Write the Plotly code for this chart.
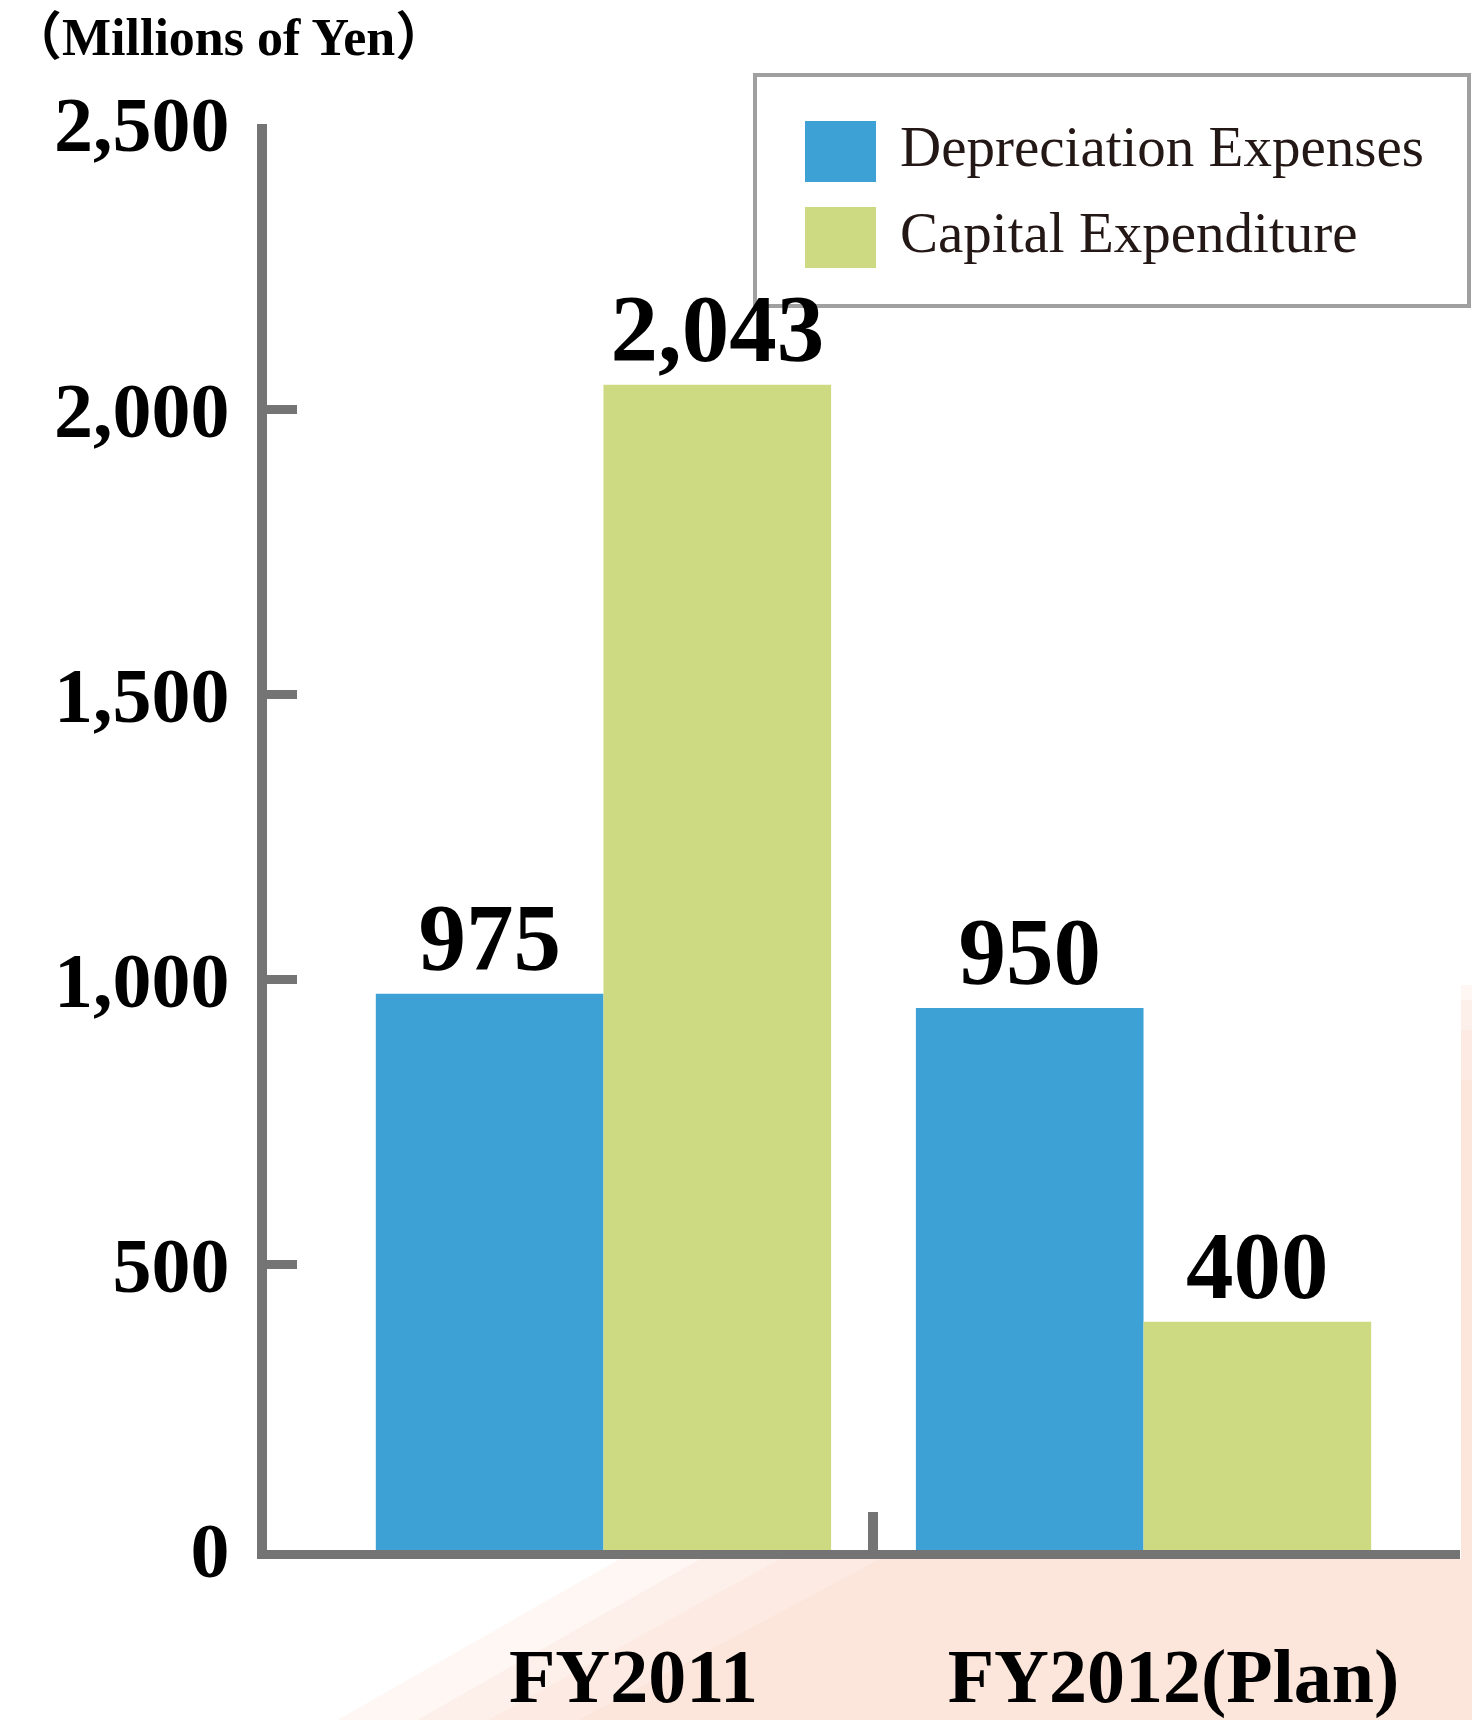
import plotly.graph_objects as go

# ---------------- data ----------------
categories = ["FY2011", "FY2012(Plan)"]
series_names = ["Depreciation Expenses", "Capital Expenditure"]
depreciation = [975, 950]
capital_expenditure = [2043, 400]
y_tick_values = [0, 500, 1000, 1500, 2000, 2500]
unit_label = "（Millions of Yen）"

# ---------------- style ----------------
W, H = 1472, 1720
ML, MR, MT, MB = 267, 12, 124, 170
PW, PH = W - ML - MR, H - MT - MB
BLUE = "#3DA1D6"
GREEN = "#CEDA82"
AXIS = "#747474"
SERIF = "Liberation Serif, Times New Roman, serif"
SERIF_CJK = "Liberation Serif, Noto Sans CJK JP, serif"
TEXT_DARK = "#231815"
PEACH = "#FBE0D3"


def px(x):
    return (x - ML) / PW


def py(y):
    return (H - MB - y) / PH


x_index = list(range(len(categories)))
series_values = [depreciation, capital_expenditure]
series_colors = [BLUE, GREEN]

fig = go.Figure()
for name, vals, col in zip(series_names, series_values, series_colors):
    fig.add_trace(go.Bar(
        name=name, x=x_index, y=vals,
        marker=dict(color=col, line=dict(width=0)),
        texttemplate="%{y:,}", textposition="outside",
        textfont=dict(family=SERIF, size=95, color="black", weight="bold"),
        constraintext="none", cliponaxis=False, showlegend=False,
    ))

shapes = []
# soft peach background at bottom right (layered for a soft edge)
for (top_y, x_top, x_bot, op) in [(985, 620, 320, 0.25), (1000, 700, 400, 0.3),
                                  (1030, 780, 470, 0.35), (1080, 880, 560, 0.4)]:
    shapes.append(dict(type="path", xref="paper", yref="paper", layer="below",
                       path=f"M {px(1461)},{py(top_y)} L {px(1480)},{py(top_y)} L {px(1480)},{py(1730)} "
                            f"L {px(x_bot)},{py(1730)} L {px(x_top)},{py(1559)} L {px(1461)},{py(1559)} Z",
                       fillcolor=PEACH, opacity=op, line=dict(width=0)))

# legend box
shapes.append(dict(type="rect", xref="paper", yref="paper", layer="below",
                   x0=px(755), x1=px(1469), y0=py(75), y1=py(306),
                   fillcolor="white", line=dict(color="#A0A0A0", width=4)))
legend_rows = [(121, 182), (207, 268)]
annotations = []
for (y0, y1), name, col in zip(legend_rows, series_names, series_colors):
    shapes.append(dict(type="rect", xref="paper", yref="paper", layer="below",
                       x0=px(805), x1=px(876), y0=py(y0), y1=py(y1),
                       fillcolor=col, line=dict(width=0)))
    annotations.append(dict(xref="paper", yref="paper", x=px(898), y=py((y0 + y1) / 2 - 5),
                            xanchor="left", yanchor="middle", showarrow=False,
                            text=name, font=dict(family=SERIF, size=57, color=TEXT_DARK)))

annotations.append(dict(xref="paper", yref="paper", x=px(8), y=py(38),
                        xanchor="left", yanchor="middle", showarrow=False,
                        text=unit_label,
                        font=dict(family=SERIF_CJK, size=52, color="black", weight="bold")))

fig.update_layout(
    template="none",
    width=W, height=H,
    margin=dict(l=ML, r=MR, t=MT, b=MB, autoexpand=False),
    paper_bgcolor="white", plot_bgcolor="rgba(0,0,0,0)",
    barmode="group", bargap=0.157, bargroupgap=0,
    shapes=shapes, annotations=annotations,
    showlegend=False,
    xaxis=dict(
        range=[-0.623, 1.586], showgrid=False, zeroline=False,
        showline=True, linecolor=AXIS, linewidth=9,
        tickmode="array", tickvals=x_index, ticktext=categories,
        ticks="", ticklabelstandoff=52, ticklabelshift=30,
        tickfont=dict(family=SERIF, size=76, color="black", weight="bold"),
        minor=dict(tickmode="array", tickvals=[0.5], ticks="inside",
                   ticklen=38, tickwidth=10, tickcolor=AXIS, showgrid=False),
        automargin=False,
    ),
    yaxis=dict(
        range=[0, 2500], showgrid=False, zeroline=False,
        showline=True, linecolor=AXIS, linewidth=10,
        tickmode="array", tickvals=y_tick_values, tickformat=",",
        ticks="inside", ticklen=30, tickwidth=9, tickcolor=AXIS,
        ticklabelstandoff=12,
        tickfont=dict(family=SERIF, size=78, color="black", weight="bold"),
        automargin=False,
    ),
)

fig.write_html("out.html")
